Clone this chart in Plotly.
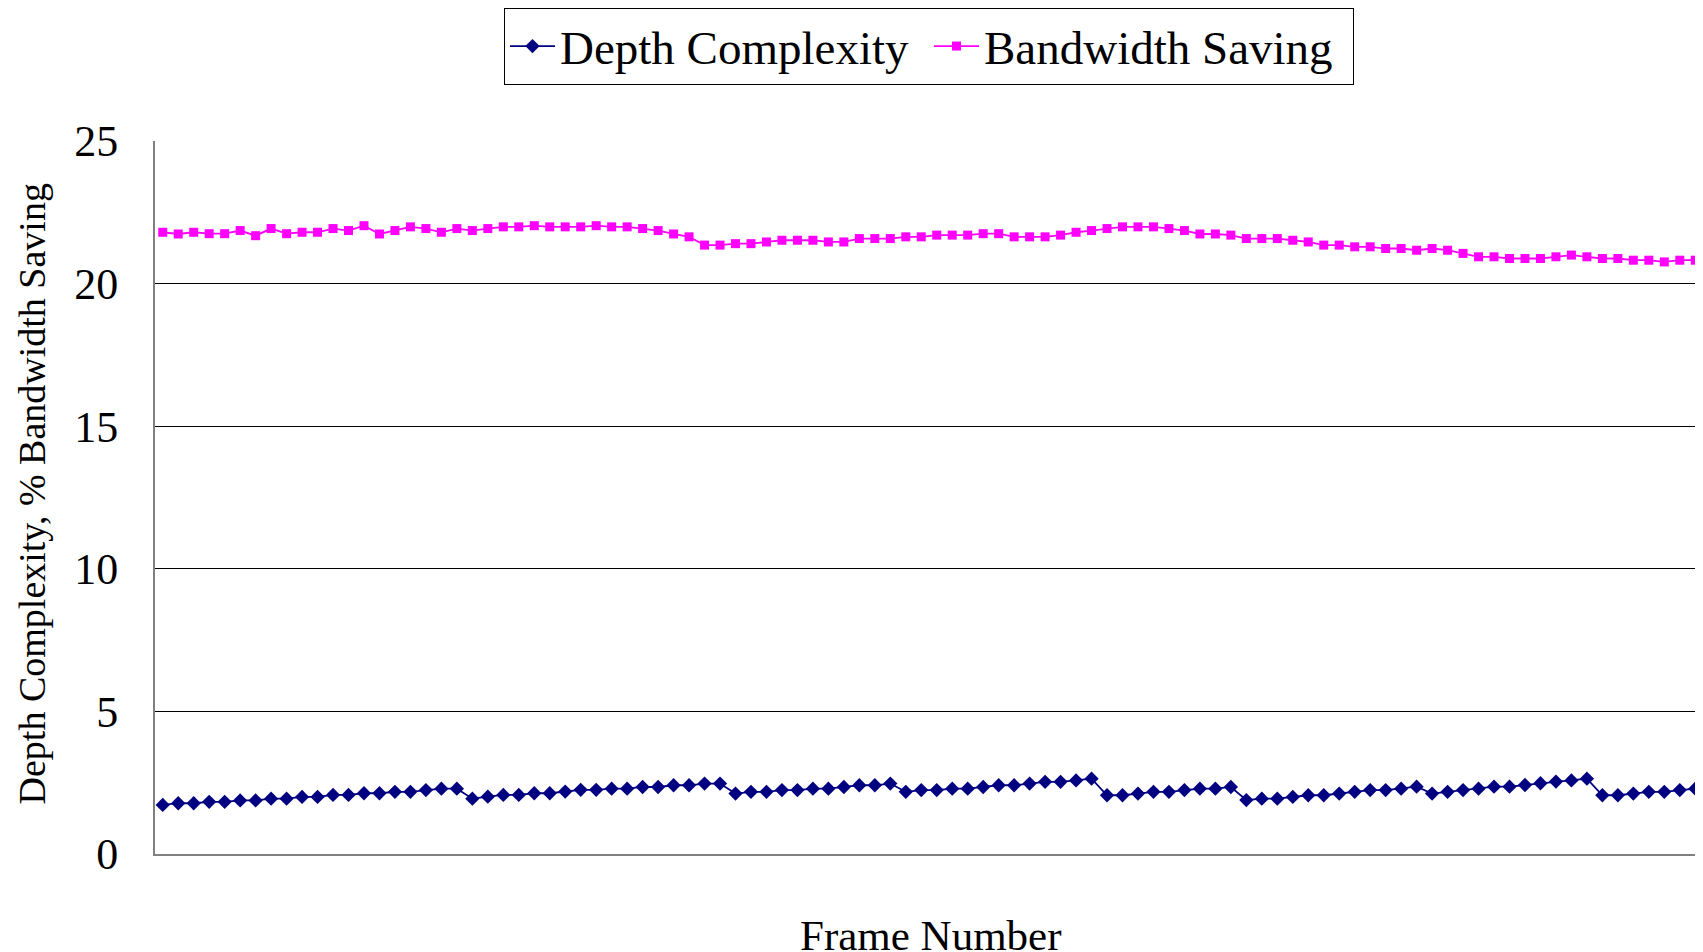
import plotly.graph_objects as go

frames = list(range(1, 101))

depth_complexity = [
    1.72, 1.78, 1.78, 1.83, 1.83, 1.88, 1.88, 1.94, 1.94, 2.00,
    2.00, 2.07, 2.07, 2.13, 2.13, 2.18, 2.18, 2.24, 2.29, 2.29,
    1.94, 2.01, 2.07, 2.07, 2.13, 2.13, 2.19, 2.25, 2.25, 2.29,
    2.29, 2.35, 2.35, 2.41, 2.41, 2.47, 2.47, 2.12, 2.18, 2.18,
    2.24, 2.24, 2.29, 2.29, 2.35, 2.41, 2.41, 2.47, 2.18, 2.24,
    2.24, 2.29, 2.29, 2.35, 2.41, 2.41, 2.47, 2.53, 2.53, 2.58,
    2.64, 2.06, 2.06, 2.12, 2.18, 2.18, 2.24, 2.29, 2.29, 2.35,
    1.89, 1.94, 1.94, 2.00, 2.06, 2.06, 2.12, 2.18, 2.24, 2.24,
    2.29, 2.36, 2.12, 2.18, 2.24, 2.29, 2.36, 2.36, 2.42, 2.48,
    2.54, 2.58, 2.64, 2.06, 2.06, 2.12, 2.18, 2.18, 2.24, 2.29,
]

bandwidth_saving = [
    21.80, 21.74, 21.80, 21.75, 21.75, 21.86, 21.68, 21.93, 21.75, 21.80,
    21.80, 21.93, 21.86, 22.03, 21.74, 21.86, 21.99, 21.93, 21.80, 21.93,
    21.86, 21.93, 21.99, 21.99, 22.03, 21.99, 21.99, 21.99, 22.03, 21.99,
    21.99, 21.93, 21.86, 21.74, 21.64, 21.35, 21.35, 21.40, 21.40, 21.46,
    21.52, 21.52, 21.52, 21.46, 21.46, 21.58, 21.58, 21.58, 21.64, 21.64,
    21.70, 21.70, 21.70, 21.75, 21.75, 21.64, 21.64, 21.64, 21.70, 21.80,
    21.86, 21.93, 21.99, 21.99, 21.99, 21.93, 21.86, 21.74, 21.74, 21.70,
    21.58, 21.58, 21.58, 21.52, 21.46, 21.35, 21.35, 21.29, 21.29, 21.23,
    21.23, 21.17, 21.23, 21.17, 21.06, 20.94, 20.94, 20.88, 20.88, 20.88,
    20.94, 21.00, 20.94, 20.88, 20.88, 20.82, 20.82, 20.76, 20.82, 20.82,
]

y_ticks = [0, 5, 10, 15, 20, 25]
x_title = "Frame Number"
y_title = "Depth Complexity, % Bandwidth Saving"

FONT = "Liberation Serif, Times New Roman, serif"

fig = go.Figure()
fig.add_trace(go.Scatter(
    x=frames, y=depth_complexity, name="Depth Complexity",
    mode="lines+markers",
    line=dict(color="#000080", width=1.8),
    marker=dict(symbol="diamond", size=11, color="#000080"),
))
fig.add_trace(go.Scatter(
    x=frames, y=bandwidth_saving, name="Bandwidth Saving",
    mode="lines+markers",
    line=dict(color="#FF00FF", width=1.8),
    marker=dict(symbol="square", size=9, color="#FF00FF"),
))

# the page body has an 8px margin, so the figure is sized/offset to compensate
fig.update_layout(
    width=1695, height=944,
    margin=dict(l=147, r=0, t=130, b=98),
    paper_bgcolor="white", plot_bgcolor="white",
    font=dict(family=FONT, color="black", size=44),
    showlegend=True,
    legend=dict(
        orientation="h", x=0.5, xanchor="center", y=1.187, yanchor="top",
        bordercolor="black", borderwidth=1, bgcolor="white",
        font=dict(family=FONT, size=47, color="black"),
        itemwidth=45, tracegroupgap=0,
        entrywidth=364, entrywidthmode="pixels",
    ),
    xaxis=dict(
        range=[0.5, 100.5], showgrid=False, zeroline=False,
        showticklabels=False, ticks="", automargin=False,
        showline=True, linecolor="#808080", linewidth=2,
    ),
    yaxis=dict(
        range=[0, 25], tickvals=y_ticks, ticktext=[str(v) for v in y_ticks],
        showgrid=True, gridcolor="black", gridwidth=1, automargin=False,
        zeroline=False, showline=True, linecolor="#808080", linewidth=2,
        ticks="", ticklabelstandoff=26,
        tickfont=dict(family=FONT, size=44),
    ),
    annotations=[
        dict(text=x_title, xref="paper", yref="paper", x=0.5013, y=-0.1145,
             xanchor="center", yanchor="middle", showarrow=False,
             font=dict(family=FONT, size=43, color="black")),
        dict(text=y_title, xref="paper", yref="paper", x=-0.0795, y=0.5056,
             xanchor="center", yanchor="middle", showarrow=False, textangle=-90,
             font=dict(family=FONT, size=38, color="black")),
    ],
)

fig.write_html("out.html")
